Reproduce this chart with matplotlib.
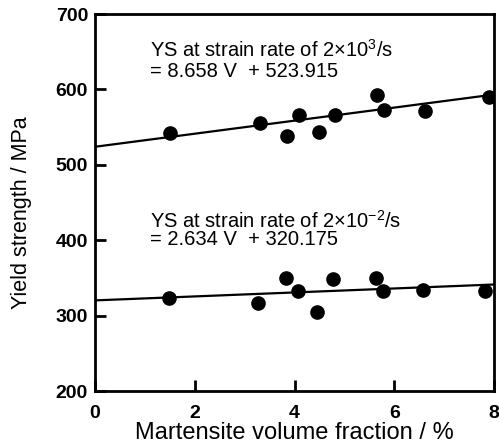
import numpy as np
import matplotlib
matplotlib.use("Agg")
import matplotlib.pyplot as plt

plt.rcParams['font.family'] = ['Liberation Sans', 'DejaVu Sans']
plt.rcParams['mathtext.fontset'] = 'custom'
plt.rcParams['mathtext.rm'] = 'Liberation Sans'
plt.rcParams['mathtext.it'] = 'Liberation Sans:italic'

# martensite volume fraction (%) and yield strength (MPa)
vf_high = [1.51, 3.31, 3.84, 4.10, 4.50, 4.81, 5.66, 5.80, 6.61, 7.90]
ys_high = [542, 556, 538, 566, 543, 566, 593, 573, 572, 590]

vf_low = [1.49, 3.26, 3.82, 4.07, 4.46, 4.78, 5.64, 5.78, 6.58, 7.82]
ys_low = [324, 317, 350, 332, 305, 349, 350, 332, 334, 332]

# regression lines: slope, intercept
fit_high = (8.658, 523.915)
fit_low = (2.634, 320.175)

fig = plt.figure(figsize=(4.99, 4.48), dpi=100)
ax = fig.add_axes([95 / 499, 1 - 391 / 448, 399 / 499, 377 / 448])

xl = np.array([0, 8])
for vf, ys, (m, b) in [(vf_high, ys_high, fit_high), (vf_low, ys_low, fit_low)]:
    ax.plot(xl, m * xl + b, color='black', lw=1.6, zorder=2)
    ax.plot(vf, ys, 'o', color='black', ms=9.5, zorder=3)

ax.set_xlim(0, 8)
ax.set_ylim(200, 700)
ax.set_xticks([0, 2, 4, 6, 8])
ax.set_yticks([200, 300, 400, 500, 600, 700])
ax.tick_params(direction='in', length=8, width=2, labelsize=14)
ax.tick_params(axis='x', pad=10)
ax.tick_params(axis='y', pad=5)
for lbl in ax.get_xticklabels() + ax.get_yticklabels():
    lbl.set_fontweight('bold')
for s in ax.spines.values():
    s.set_linewidth(2)

ax.set_xlabel('Martensite volume fraction / %', fontsize=17, labelpad=0)
ax.set_ylabel('Yield strength / MPa', fontsize=15.5)
ax.yaxis.set_label_coords(-0.158, 0.472)

txt = dict(fontsize=14.5)
ax.text(1.10, 643, r'YS at strain rate of 2$\times$10$^{3}$/s', **txt)
ax.text(1.10, 617, '= 8.658 V  + 523.915', **txt)
ax.text(1.10, 417, r'YS at strain rate of 2$\times$10$^{-2}$/s', **txt)
ax.text(1.10, 393, '= 2.634 V  + 320.175', **txt)

fig.savefig('out.png', dpi=100)
